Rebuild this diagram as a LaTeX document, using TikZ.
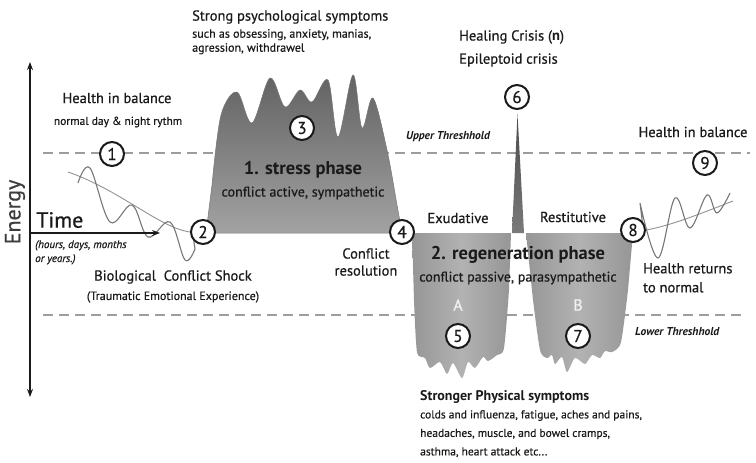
\documentclass[tikz,border=0pt]{standalone}
\usepackage{fontspec}
\setmainfont{PT Sans}[UprightFeatures={FakeBold=0.6},ItalicFeatures={FakeBold=0.6}]
\usetikzlibrary{arrows.meta}
\definecolor{ink}{HTML}{1A1A1A}
\definecolor{dashgray}{HTML}{9C9C9C}
\definecolor{wavegray}{HTML}{777777}
\definecolor{stressTop}{HTML}{626262}
\definecolor{stressBot}{HTML}{A2A2A2}
\definecolor{regEdge}{HTML}{969696}
\definecolor{regMid}{HTML}{B2B2B2}
\definecolor{spikeTop}{HTML}{4A4A4A}
\definecolor{spikeBot}{HTML}{7A7A7A}
\tikzset{
  num/.style={circle,draw=ink,line width=2pt,fill=white,inner sep=0pt,minimum size=24pt,text=ink,font=\fontsize{17}{17}\selectfont},
  thresh/.style={draw=dashgray,line width=2.6pt,dash pattern=on 10pt off 6pt},
  lab/.style={text=ink,inner sep=0pt,font=\fontsize{14.5}{16}\selectfont},
  small/.style={text=ink,inner sep=0pt,font=\fontsize{12}{14}\selectfont},
  phase/.style={text=ink,inner sep=0pt,font=\fontsize{18.5}{20}\selectfont\bfseries},
  threshlab/.style={text=ink,inner sep=0pt,font=\fontsize{11.5}{13}\selectfont\bfseries\itshape},
  axisline/.style={draw=ink,line width=1.6pt},
  wave/.style={draw=wavegray,line width=1.1pt},
  trend/.style={draw=wavegray!80,line width=0.9pt},
}
\begin{document}
\begin{tikzpicture}[x=1pt,y=-1pt]
\useasboundingbox (0,0) rectangle (756,463);

% thresholds
\draw[thresh] (43,153) -- (750,153);
\draw[thresh] (43,315) -- (745,315);

% stress block
\shade[top color=stressTop,bottom color=stressBot,draw=ink!60,line width=0.5pt]
  (206,233) -- plot[smooth,tension=0.55] coordinates {(212,185) (221,115) (237,92) (252,123) (270,78) (285,107) (300,90) (312,102) (328,80) (338,137) (353,75) (362,128) (373,98) (387,150) (397,205) (402,233)} -- cycle;

% regeneration A
\shade[left color=regEdge,right color=regEdge,middle color=regMid]
  (412,233) -- (511,233) -- plot[smooth,tension=0.45] coordinates {(509,290) (504,348) (497,355) (488,361) (483,357) (475,368) (468,362) (462,378) (453,363) (447,374) (440,362) (430,368) (425,358) (417,352) (414,300)} -- cycle;

% regeneration B
\shade[left color=regEdge,right color=regEdge,middle color=regMid]
  (526,233) -- (633,233) -- plot[smooth,tension=0.45] coordinates {(628,290) (621,342) (612,352) (605,351) (600,358) (592,355) (585,364) (575,358) (567,372) (562,357) (555,364) (552,355) (547,358) (540,350) (533,300)} -- cycle;

% spike
\shade[top color=spikeTop,bottom color=spikeBot] (512,233) -- (517.5,114) -- (524,233) -- cycle;

% numbered circles
\node[num] (n1) at (112,154) {1};
\node[num] (n2) at (203,232) {2};
\node[num] (n3) at (302,128) {3};
\node[num] (n4) at (402,232) {4};
\node[num] (n5) at (458,336) {5};
\node[num] (n6) at (517,97) {6};
\node[num] (n7) at (578,336) {7};
\node[num] (n8) at (633,230) {8};
\node[num] (n9) at (705,163) {9};

% left waves
\coordinate (lw0) at (68,172);
\draw[trend] (lw0) .. controls (120,190) and (160,228) .. (n2.west);
\draw[wave] plot[smooth,tension=0.6] coordinates {(78,183) (90,168) (110,222) (132,205) (148,237) (170,222) (185,260) (195,249)} -- (n2.south west);

% right waves
\coordinate (rw1) at (733,201);
\draw[trend] (n8.east) .. controls (670,226) and (705,212) .. (rw1);
\draw[wave] (n8.north east) -- plot[smooth,tension=0.6] coordinates {(640,203) (658,258) (675,198) (690,228) (707,195) (717,213) (730,193)};

% axes
\coordinate (ytop) at (30,62);
\coordinate (ybot) at (30,397);
\draw[axisline,{Stealth[length=8pt,width=6pt]}-{Stealth[length=8pt,width=6pt]}] (ybot) -- (ytop);
\coordinate (t0) at (30,233);
\coordinate (t1) at (160,233);
\draw[axisline,-{Stealth[length=8pt,width=6pt]}] (t0) -- (t1);

% axis labels
\node[text=ink!85,inner sep=0pt,rotate=90,font=\fontsize{22}{22}\selectfont] (energy) at (15,212) {Energy};
\node[text=ink,inner sep=0pt,anchor=west,font=\fontsize{22}{22}\selectfont] (time) at (36,220) {Time};
\node[small,anchor=north west,align=left,font=\fontsize{11}{14}\selectfont\itshape] (hours) at (35,240) {(hours, days, months\\or years.)};

% texts
\node[lab,anchor=west] (strong) at (192,17) {Strong psychological symptoms};
\node[small,anchor=north west,align=left] (such) at (192,29) {such as obsessing, anxiety, manias,\\agression, withdrawel};
\node[lab] (hib1) at (117,98) {Health in balance};
\node[small,font=\fontsize{11.5}{13}\selectfont] (rythm) at (118,122) {normal day \& night rythm};
\node[threshlab] (upper) at (448,137) {Upper Threshhold};
\node[lab,anchor=west] (heal) at (459,37) {Healing Crisis ({\bfseries n})};
\node[lab,anchor=west] (epi) at (459,60) {Epileptoid crisis};
\node[lab] (hib2) at (693,132) {Health in balance};
\node[phase] (stress) at (303,170) {1. stress phase};
\node[lab,font=\fontsize{14}{16}\selectfont] (active) at (303,193) {conflict active, sympathetic};
\node[lab] (exu) at (458,218) {Exudative};
\node[lab] (rest) at (573,217) {Restitutive};
\node[phase] (regen) at (518,255) {2. regeneration phase};
\node[lab,font=\fontsize{14}{16}\selectfont] (passive) at (518,278) {conflict passive, parasympathetic};
\node[text=white!90!gray,inner sep=0pt,font=\fontsize{16}{16}\selectfont] (A) at (458,305) {A};
\node[text=white!90!gray,inner sep=0pt,font=\fontsize{16}{16}\selectfont] (B) at (578,305) {B};
\node[lab,align=center] (resol) at (366,262) {Conflict\\[1pt]resolution};
\node[lab,anchor=north west,align=left] (returns) at (643,263) {Health returns\\[3pt]to normal};
\node[threshlab,anchor=west] (lower) at (635,332) {Lower Threshhold};
\node[lab,anchor=west,font=\fontsize{14}{16}\selectfont\bfseries] (phys) at (420,397) {Stronger Physical symptoms};
\node[small,anchor=north west,align=left,font=\fontsize{11.5}{18.5}\selectfont] (physl) at (420,410) {colds and influenza, fatigue, aches and pains,\\headaches, muscle, and bowel cramps,\\asthma, heart attack etc...};
\node[lab] (bio) at (173,277) {Biological\ \ Conflict Shock};
\node[small] (trauma) at (173,297) {(Traumatic Emotional Experience)};
\end{tikzpicture}
\end{document}
